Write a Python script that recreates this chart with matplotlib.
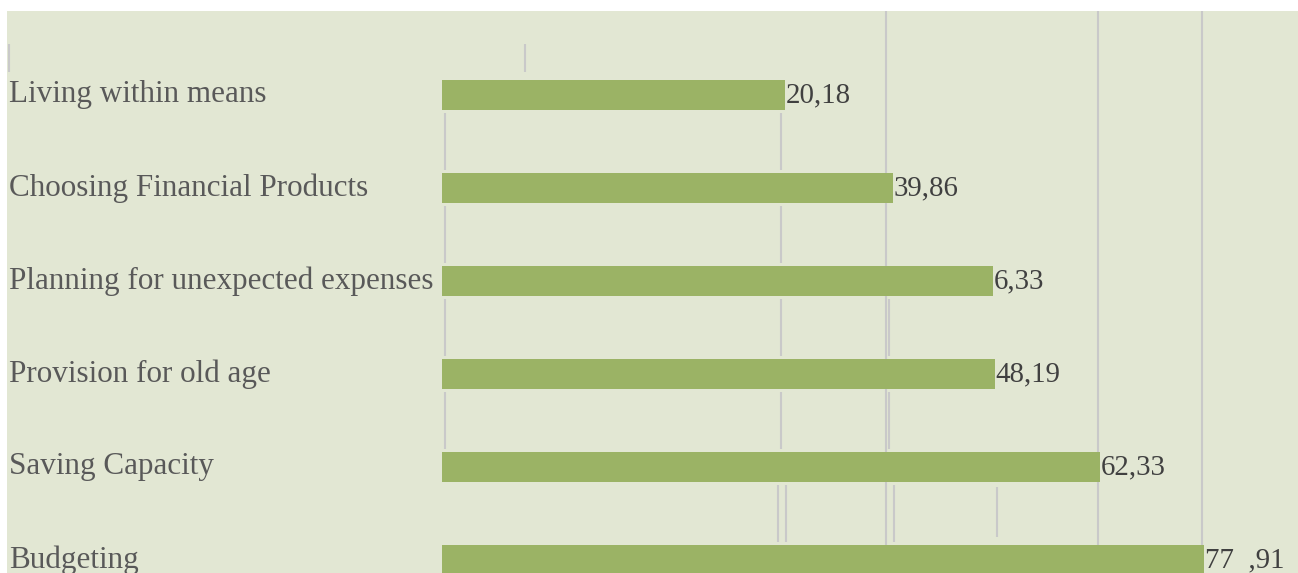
import matplotlib
matplotlib.use("Agg")
import matplotlib.pyplot as plt

# data (bar lengths scaled so Budgeting = 77.91)
categories = ['Living within means', 'Choosing Financial Products',
              'Planning for unexpected expenses', 'Provision for old age',
              'Saving Capacity', 'Budgeting']
bar_length = [35.07, 46.1, 56.3, 56.5, 67.3, 77.91]
value_labels = ['20,18', '39,86', '6,33', '48,19', '62,33', '77  ,91']

# grid fragments as they appear in the source (x, y from, y to)
grid_full = [45.4, 67.08, 77.71]
grid_pieces = [(-44.27, -0.55, -0.25), (8.49, -0.55, -0.25)]
for i in range(4):
    grid_pieces.append((0.31, i + 0.19, i + 0.81))
    grid_pieces.append((34.66, i + 0.19, i + 0.81))
for i in (2, 3):
    grid_pieces.append((45.71, i + 0.19, i + 0.81))
grid_pieces += [(34.36, 4.19, 4.81), (35.17, 4.19, 4.81),
                (46.22, 4.19, 4.81), (56.75, 4.22, 4.75)]

bg = '#E2E7D3'
bar_color = '#9BB365'
grid_color = '#C9C9C9'

fig = plt.figure(figsize=(12.98, 5.73), dpi=100, facecolor='white')
ax = fig.add_axes([7 / 1298, 0, 1 - 7 / 1298, 562 / 573])
ax.set_facecolor(bg)

for x in grid_full:
    ax.axvline(x, color=grid_color, lw=1.5, zorder=1)
for x, y0, y1 in grid_pieces:
    ax.vlines(x, y0, y1, color=grid_color, lw=1.5, zorder=1)

pos = list(range(len(categories)))
ax.barh(pos, bar_length, height=0.33, color=bar_color, zorder=2)

for p, name, length, lab in zip(pos, categories, bar_length, value_labels):
    ax.text(-44.27, p, name, ha='left', va='center', fontsize=22.4,
            family='Liberation Serif', color='#595959')
    ax.text(length + 0.1, p, lab, ha='left', va='center', fontsize=20.8,
            family='Liberation Serif', color='#404040')

ax.set_xlim(-44.48, 87.53)
ax.set_ylim(5.14, -0.903)
ax.set_xticks([])
ax.set_yticks([])
for s in ax.spines.values():
    s.set_visible(False)

fig.savefig('out.png', dpi=100, facecolor='white')
